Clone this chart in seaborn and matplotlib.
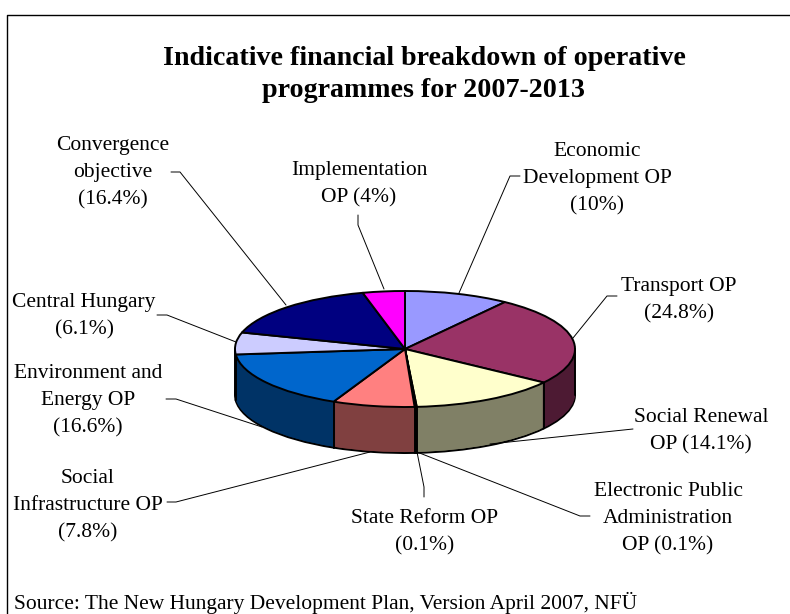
import numpy as np
import matplotlib
matplotlib.use("Agg")
import matplotlib.pyplot as plt
import seaborn as sns

sns.set_style("white")
plt.rcParams["font.family"] = ["Liberation Serif", "DejaVu Serif"]
plt.rcParams["text.color"] = "black"

# slices, clockwise from the top
programmes = ["Economic Development OP", "Transport OP", "Social Renewal OP",
              "Electronic Public Administration OP", "State Reform OP",
              "Social Infrastructure OP", "Environment and Energy OP",
              "Central Hungary", "Convergence objective", "Implementation OP"]
shares = [10, 24.8, 14.1, 0.1, 0.1, 7.8, 16.6, 6.1, 16.4, 4]
slice_colors = ["#9999FF", "#993366", "#FFFFCC", "#660066", "#CC99FF",
                "#FF8080", "#0066CC", "#CCCCFF", "#000080", "#FF00FF"]

title = "Indicative financial breakdown of operative\nprogrammes for 2007-2013"
source = "Source: The New Hungary Development Plan, Version April 2007, NFÜ"
labels = ["Economic\nDevelopment OP\n(10%)", "Transport OP\n(24.8%)",
          "Social Renewal\nOP (14.1%)", "Electronic Public\nAdministration\nOP (0.1%)",
          "State Reform OP\n(0.1%)", "Social\nInfrastructure OP\n(7.8%)",
          "Environment and\nEnergy OP\n(16.6%)", "Central Hungary\n(6.1%)",
          "Convergence\nobjective\n(16.4%)", "Implementation\nOP (4%)"]
label_pos = [(597, 179), (679, 300), (701, 431), (668, 519), (425, 532),
             (88, 506), (88, 401), (84, 316), (113, 173), (359, 184)]
leaders = [[(520, 176), (510, 176), (459, 293)],
           [(617, 296), (607, 296), (573, 338)],
           [(633, 429), (490, 444)],
           [(590, 516), (580, 516), (417, 452)],
           [(424, 497), (424, 487), (417, 452)],
           [(167, 502), (176, 502), (370, 452)],
           [(166, 399), (176, 399), (262, 427)],
           [(157, 315), (167, 315), (236, 342)],
           [(171, 172), (180, 172), (286, 305)],
           [(358, 215), (358, 225), (384, 289)]]

W, H = 790, 614
cx, cy, rx, ry = 405, 349, 170, 58
depth = 46 / ry
edge = 1.4

fig = plt.figure(figsize=(W / 100, H / 100), dpi=100, facecolor="white")

# pie axes: one data unit is the pie radius, squashed by the axes limits
ax = fig.add_axes([0, 0, 1, 1])
top_colors = sns.color_palette(slice_colors)
side_colors = [tuple(c * 0.5 for c in col) for col in top_colors]

# side wall: the same pie stacked from the bottom up
layers = np.linspace(depth, 0, 47)
ax.pie(shares, colors=side_colors, startangle=90, counterclock=False, center=(0, -depth),
       wedgeprops=dict(edgecolor="black", linewidth=edge))
for d in layers[1:]:
    ax.pie(shares, colors=side_colors, startangle=90, counterclock=False, center=(0, -d),
           wedgeprops=dict(edgecolor=None, linewidth=0))
ax.pie(shares, colors=top_colors, startangle=90, counterclock=False,
       wedgeprops=dict(edgecolor="black", linewidth=edge, zorder=5))

# vertical edges on the visible front of the wall
bounds = np.cumsum(shares) / np.sum(shares) * 2 * np.pi
for b in bounds:
    if np.cos(b) < 0:
        ax.plot([np.sin(b), np.sin(b)], [np.cos(b), np.cos(b) - depth], color="black", lw=edge, zorder=4)
for x in [-1, 1]:
    ax.plot([x, x], [0, -depth], color="black", lw=edge, zorder=4)

ax.set_aspect("auto")
ax.set_xlim(-cx / rx, (W - cx) / rx)
ax.set_ylim((cy - H) / ry, cy / ry)

# overlay in pixels for the frame, labels and leader lines
ov = fig.add_axes([0, 0, 1, 1], facecolor="none")
ov.set_xlim(0, W)
ov.set_ylim(H, 0)
ov.axis("off")

ov.plot([7, 7, W], [H, 15, 15], color="black", lw=1.0)
for pts, name in zip(leaders, programmes):
    xs, ys = zip(*pts)
    ov.plot(xs, ys, color="black", lw=0.7)
for lab, (x, y) in zip(labels, label_pos):
    ov.text(x, y, lab, ha="center", va="center", fontsize=15.5, linespacing=1.57)

ov.text(424, 74.5, title, ha="center", va="center", fontsize=20.2, fontweight="bold", linespacing=1.4)
ov.text(14, 603, source, ha="left", va="center", fontsize=15.5)

fig.savefig("out.png", dpi=100)
